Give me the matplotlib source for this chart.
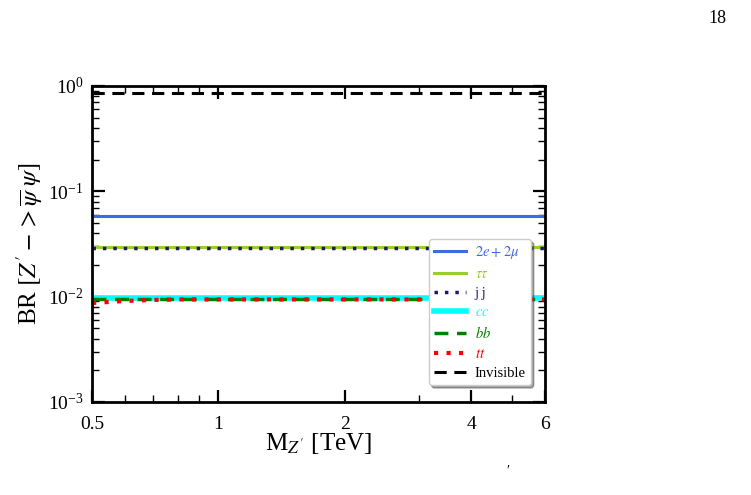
import matplotlib
matplotlib.use("Agg")
import matplotlib.pyplot as plt
from matplotlib.ticker import FixedLocator, FixedFormatter, LogLocator, NullFormatter

plt.rcParams['font.family'] = ['Liberation Serif', 'DejaVu Serif']
plt.rcParams['mathtext.fontset'] = 'stix'

mass = [0.5, 0.55, 0.6, 0.7, 0.8, 1.0, 2.0, 4.0, 6.0]
br_lep = [0.0578] * 9
br_tau = [0.0293] * 9
br_jj = [0.0290] * 9
br_cc = [0.0096] * 9
br_bb = [0.0095] * 9
br_tt = [0.0087, 0.0089, 0.0091, 0.0093, 0.0094, 0.0094, 0.0094, 0.0094, 0.0094]
br_inv = [0.857] * 9

xticks = [0.5, 1, 2, 4, 6]
xticklabels = ["0.5", "1", "2", "4", "6"]

fig = plt.figure(figsize=(7.51, 4.95), dpi=100)
ax = fig.add_axes([0.1225, 0.188, 0.6032, 0.6383])

ax.plot(mass, br_lep, color='#4169e1', lw=2.2, label=r'$2e+2\mu$')
ax.plot(mass, br_tau, color='#9acd32', lw=2.2, label=r'$\tau\tau$')
ax.plot(mass, br_jj, color='#191970', lw=2.5, ls=(0, (1, 2)), label='j j')
ax.plot(mass, br_cc, color='cyan', lw=4, label=r'$cc$')
ax.plot(mass, br_bb, color='green', lw=2.5, ls=(0, (4, 2.5)), label=r'$bb$')
ax.plot(mass, br_tt, color='red', lw=3, ls=(0, (1, 2)), label=r'$tt$')
ax.plot(mass, br_inv, color='black', lw=2.2, ls=(0, (4, 2.5)), label='Invisible')

ax.set_xscale('log')
ax.set_yscale('log')
ax.set_xlim(0.5, 6)
ax.set_ylim(1e-3, 1e0)

ax.xaxis.set_major_locator(FixedLocator(xticks))
ax.xaxis.set_major_formatter(FixedFormatter(xticklabels))
ax.xaxis.set_minor_locator(LogLocator(base=10, subs=range(2, 10), numticks=20))
ax.xaxis.set_minor_formatter(NullFormatter())
ax.yaxis.set_major_locator(LogLocator(base=10, numticks=10))
ax.yaxis.set_minor_locator(LogLocator(base=10, subs=range(2, 10), numticks=20))
ax.yaxis.set_minor_formatter(NullFormatter())

ax.tick_params(which='both', direction='in', top=True, right=True, labelsize=14)
ax.tick_params(which='major', length=9, width=1.6)
ax.tick_params(which='minor', length=5, width=1.0)
ax.tick_params(axis='x', which='major', pad=10)
ax.tick_params(axis='y', which='major', pad=6)
for sp in ax.spines.values():
    sp.set_linewidth(2)

ax.set_xlabel(r"M$_{Z^{\prime}}$ [TeV]", fontsize=18, labelpad=-1)
ax.set_ylabel(r"BR $[Z^{\prime} - > \overline{\psi}\ \psi]$", fontsize=18, labelpad=2)

leg = ax.legend(loc='lower right', fontsize=10.5, fancybox=True, shadow=True,
                framealpha=1, handlelength=2.2, borderpad=0.35, labelspacing=0.42,
                handletextpad=0.6, bbox_to_anchor=(0.985, 0.03))
for text, line in zip(leg.get_texts(), leg.get_lines()):
    c = line.get_color()
    if c != 'black':
        text.set_color(c)

fig.text(0.955, 0.962, "18", fontsize=13, ha='center', va='center')
fig.text(0.676, 0.048, "\u2032", fontsize=10, ha='center', va='center')

fig.savefig("out.png", dpi=100)
